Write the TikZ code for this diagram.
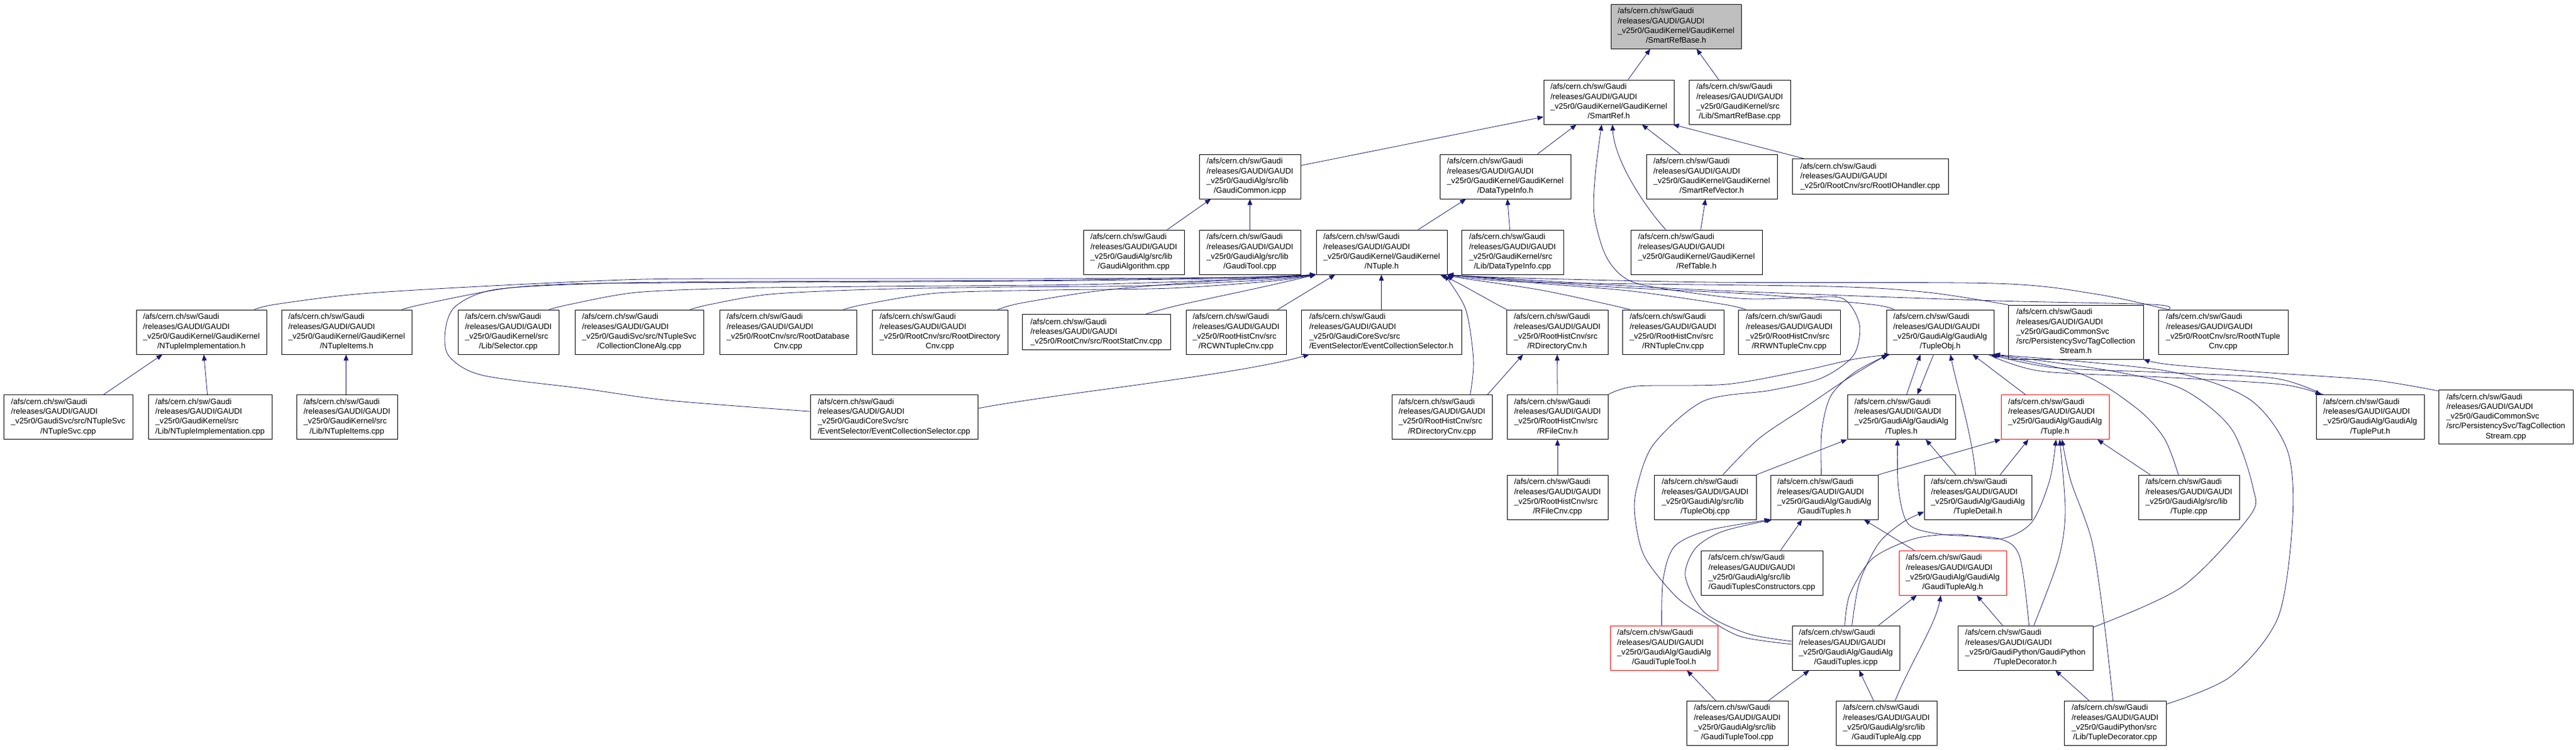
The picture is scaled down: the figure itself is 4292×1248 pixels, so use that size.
\documentclass[tikz,border=0pt]{standalone}
\usepackage{fontspec}
\setmainfont{Liberation Sans}
\usetikzlibrary{arrows.meta}
\definecolor{edgec}{HTML}{191970}
\definecolor{grayfill}{HTML}{BFBFBF}
\newcommand\fsz{\fontsize{13.2}{16.2}\selectfont}
\newcommand\La[2]{\begin{tabular}{@{}l@{}}/afs/cern.ch/sw/Gaudi\\/releases/GAUDI/GAUDI\\#1\\\multicolumn{1}{@{}c@{}}{#2}\end{tabular}}
\newcommand\Lc[1]{\begin{tabular}{@{}l@{}}/afs/cern.ch/sw/Gaudi\\/releases/GAUDI/GAUDI\\\multicolumn{1}{@{}c@{}}{#1}\end{tabular}}
\newcommand\Le[3]{\begin{tabular}{@{}l@{}}/afs/cern.ch/sw/Gaudi\\/releases/GAUDI/GAUDI\\#1\\#2\\\multicolumn{1}{@{}c@{}}{#3}\end{tabular}}
\newcommand\bx[6]{\node[#5, minimum width={#3-#2}] (#1) at ({(#2+#3)/2},#4) {#6};}
\tikzset{
 bx/.style={draw=black, line width=0.8pt, fill=white, inner sep=0pt, minimum height=74pt, font=\fsz},
 bx3/.style={bx, minimum height=59pt},
 bx5/.style={bx, minimum height=90pt},
 redb/.style={bx, draw=red},
 lnk/.style={draw=edgec, line width=0.8pt, -{Triangle[length=10pt,width=8pt]}},
}
\begin{document}
\begin{tikzpicture}[x=1pt,y=-1pt]
\fill[white] (0,0) rectangle (4292,1248);
\useasboundingbox (0,0) rectangle (4292,1248);
% row 0
\bx{srb}{2684}{2901}{44}{bx,fill=grayfill}{\La{\_v25r0/GaudiKernel/GaudiKernel}{/SmartRefBase.h}}
% row 1
\bx{sr}{2572}{2789}{170}{bx}{\La{\_v25r0/GaudiKernel/GaudiKernel}{/SmartRef.h}}
\bx{srbc}{2814}{2983}{170}{bx}{\La{\_v25r0/GaudiKernel/src}{/Lib/SmartRefBase.cpp}}
% row 2
\bx{gc}{1998}{2167}{294}{bx}{\La{\_v25r0/GaudiAlg/src/lib}{/GaudiCommon.icpp}}
\bx{dti}{2399}{2617}{294}{bx}{\La{\_v25r0/GaudiKernel/GaudiKernel}{/DataTypeInfo.h}}
\bx{srv}{2743}{2961}{294}{bx}{\La{\_v25r0/GaudiKernel/GaudiKernel}{/SmartRefVector.h}}
\bx{rio}{2986}{3246}{294}{bx3}{\Lc{\_v25r0/RootCnv/src/RootIOHandler.cpp}}
% row 3
\bx{ga}{1805}{1973}{420}{bx}{\La{\_v25r0/GaudiAlg/src/lib}{/GaudiAlgorithm.cpp}}
\bx{gt}{1998}{2167}{420}{bx}{\La{\_v25r0/GaudiAlg/src/lib}{/GaudiTool.cpp}}
\bx{nt}{2193}{2411}{420}{bx}{\La{\_v25r0/GaudiKernel/GaudiKernel}{/NTuple.h}}
\bx{dtic}{2435}{2605}{420}{bx}{\La{\_v25r0/GaudiKernel/src}{/Lib/DataTypeInfo.cpp}}
\bx{rt}{2717}{2936}{420}{bx}{\La{\_v25r0/GaudiKernel/GaudiKernel}{/RefTable.h}}
% row 4
\bx{nih}{227}{444}{553}{bx}{\La{\_v25r0/GaudiKernel/GaudiKernel}{/NTupleImplementation.h}}
\bx{nitem}{469}{686}{553}{bx}{\La{\_v25r0/GaudiKernel/GaudiKernel}{/NTupleItems.h}}
\bx{sel}{763}{931}{553}{bx}{\La{\_v25r0/GaudiKernel/src}{/Lib/Selector.cpp}}
\bx{cca}{958}{1172}{553}{bx}{\La{\_v25r0/GaudiSvc/src/NTupleSvc}{/CollectionCloneAlg.cpp}}
\bx{rdb}{1199}{1427}{553}{bx}{\La{\_v25r0/RootCnv/src/RootDatabase}{Cnv.cpp}}
\bx{rdir}{1453}{1679}{553}{bx}{\La{\_v25r0/RootCnv/src/RootDirectory}{Cnv.cpp}}
\bx{rstat}{1703}{1950}{553}{bx3}{\Lc{\_v25r0/RootCnv/src/RootStatCnv.cpp}}
\bx{rcw}{1976}{2143}{553}{bx}{\La{\_v25r0/RootHistCnv/src}{/RCWNTupleCnv.cpp}}
\bx{ecsh}{2168}{2435}{553}{bx}{\La{\_v25r0/GaudiCoreSvc/src}{/EventSelector/EventCollectionSelector.h}}
\bx{rdh}{2510}{2679}{553}{bx}{\La{\_v25r0/RootHistCnv/src}{/RDirectoryCnv.h}}
\bx{rnt}{2703}{2872}{553}{bx}{\La{\_v25r0/RootHistCnv/src}{/RNTupleCnv.cpp}}
\bx{rrw}{2896}{3066}{553}{bx}{\La{\_v25r0/RootHistCnv/src}{/RRWNTupleCnv.cpp}}
\bx{tobj}{3143}{3322}{553}{bx}{\La{\_v25r0/GaudiAlg/GaudiAlg}{/TupleObj.h}}
\bx{tcsh}{3346}{3571}{553}{bx5}{\Le{\_v25r0/GaudiCommonSvc}{/src/PersistencySvc/TagCollection}{Stream.h}}
\bx{rntc}{3596}{3812}{553}{bx}{\La{\_v25r0/RootCnv/src/RootNTuple}{Cnv.cpp}}
% row 5
\bx{ntsvc}{6}{221}{694.5}{bx}{\La{\_v25r0/GaudiSvc/src/NTupleSvc}{/NTupleSvc.cpp}}
\bx{nic}{247}{453}{694.5}{bx}{\La{\_v25r0/GaudiKernel/src}{/Lib/NTupleImplementation.cpp}}
\bx{nitc}{494}{662}{694.5}{bx}{\La{\_v25r0/GaudiKernel/src}{/Lib/NTupleItems.cpp}}
\bx{ecsc}{1350}{1629}{694.5}{bx}{\La{\_v25r0/GaudiCoreSvc/src}{/EventSelector/EventCollectionSelector.cpp}}
\bx{rdc}{2319}{2486}{694.5}{bx}{\La{\_v25r0/RootHistCnv/src}{/RDirectoryCnv.cpp}}
\bx{rfh}{2511}{2679}{694.5}{bx}{\La{\_v25r0/RootHistCnv/src}{/RFileCnv.h}}
\bx{tuples}{3078}{3258}{694.5}{bx}{\La{\_v25r0/GaudiAlg/GaudiAlg}{/Tuples.h}}
\bx{tupleh}{3334}{3514}{694.5}{redb}{\La{\_v25r0/GaudiAlg/GaudiAlg}{/Tuple.h}}
\bx{tput}{3859}{4039}{694.5}{bx}{\La{\_v25r0/GaudiAlg/GaudiAlg}{/TuplePut.h}}
\bx{tcsc}{4063}{4287}{694.5}{bx5}{\Le{\_v25r0/GaudiCommonSvc}{/src/PersistencySvc/TagCollection}{Stream.cpp}}
% row 6
\bx{rfc}{2511}{2679}{828}{bx}{\La{\_v25r0/RootHistCnv/src}{/RFileCnv.cpp}}
\bx{tobjc}{2756}{2926}{828}{bx}{\La{\_v25r0/GaudiAlg/src/lib}{/TupleObj.cpp}}
\bx{gth}{2950}{3129}{828}{bx}{\La{\_v25r0/GaudiAlg/GaudiAlg}{/GaudiTuples.h}}
\bx{tdet}{3206}{3385}{828}{bx}{\La{\_v25r0/GaudiAlg/GaudiAlg}{/TupleDetail.h}}
\bx{tcpp}{3563}{3731}{828}{bx}{\La{\_v25r0/GaudiAlg/src/lib}{/Tuple.cpp}}
% row 7
\bx{gtc}{2834}{3037}{954}{bx}{\La{\_v25r0/GaudiAlg/src/lib}{/GaudiTuplesConstructors.cpp}}
\bx{gtah}{3164}{3343}{954}{redb}{\La{\_v25r0/GaudiAlg/GaudiAlg}{/GaudiTupleAlg.h}}
% row 8
\bx{gtth}{2683}{2862}{1079}{redb}{\La{\_v25r0/GaudiAlg/GaudiAlg}{/GaudiTupleTool.h}}
\bx{gticpp}{2986}{3165}{1079}{bx}{\La{\_v25r0/GaudiAlg/GaudiAlg}{/GaudiTuples.icpp}}
\bx{tdech}{3262}{3487}{1079}{bx}{\La{\_v25r0/GaudiPython/GaudiPython}{/TupleDecorator.h}}
% row 9
\bx{gttc}{2810}{2979}{1204}{bx}{\La{\_v25r0/GaudiAlg/src/lib}{/GaudiTupleTool.cpp}}
\bx{gtac}{3059}{3227}{1204}{bx}{\La{\_v25r0/GaudiAlg/src/lib}{/GaudiTupleAlg.cpp}}
\bx{tdecc}{3439}{3609}{1204}{bx}{\La{\_v25r0/GaudiPython/src}{/Lib/TupleDecorator.cpp}}

% ---------- edges ----------
\draw[lnk] ([xshift=141pt]sr.north west) -- ([xshift=66pt]srb.south west);
\draw[lnk] ([xshift=50pt]srbc.north west) -- ([xshift=143pt]srb.south west);
\draw[lnk] ([yshift=-19pt]gc.north east) -- ([yshift=-62pt]sr.north west);
\draw[lnk] ([xshift=163pt]dti.north west) -- ([xshift=55pt]sr.south west);
\draw[lnk] ([xshift=57pt]srv.north west) -- ([xshift=164pt]sr.south west);
\draw[lnk] ([xshift=20pt]rio.north west) -- ([xshift=-2pt]sr.south east);
\draw[lnk] ([xshift=59pt]rt.north west) .. controls (2745,350) and (2690,270) .. ([xshift=115pt]sr.south west);
\draw[lnk] ([xshift=117pt]rt.north west) -- ([xshift=99pt]srv.south west);
\draw[lnk] ([xshift=140pt]ga.north west) -- ([xshift=20pt]gc.south west);
\draw[lnk] (gt.north) -- (gc.south);
\draw[lnk] ([xshift=170pt]nt.north west) -- ([xshift=44pt]dti.south west);
\draw[lnk] ([xshift=81pt]dtic.north west) -- ([xshift=113pt]dti.south west);
% long curve GaudiTuples.icpp -> SmartRef.h
\draw[lnk] plot[smooth] coordinates {([yshift=6pt]gticpp.west) (2900,1060) (2840,1027) (2792,993) (2740,927) (2724,860) (2727,813) (2755,740) (2838,668) (2950,650) (3034,630) (3088,592) (3098,540) (3070,497) (3000,496) (2898,497) (2749,477) (2703,460) (2674,423) (2656,357) (2658,290) ([xshift=97pt]sr.south west)};
\draw[lnk] plot[smooth] coordinates {(rfh.north east) (2727,643) (2876,640) (3005,617) (3090,598) ([xshift=7pt]tobj.south west)};
% into NTuple.h from the left
\draw[lnk] plot[smooth] coordinates {([xshift=197pt]nih.north west) (458,507) (592,490) (781,478) (1038,466) (1205,464) (1700,464) (2050,462) (nt.south west)};
\draw[lnk] plot[smooth] coordinates {([xshift=201pt]nitem.north west) (703,507) (837,481) (949,473) (1116,471) (1700,468) (2080,463) (nt.south west)};
\draw[lnk] plot[smooth] coordinates {([xshift=152pt]sel.north west) (949,507) (1060,487) (1228,480) (1451,477) (1800,474) (2100,464) (nt.south west)};
\draw[lnk] plot[smooth] coordinates {([xshift=192pt]cca.north west) (1183,507) (1283,490) (1451,482) (1674,478) (1900,476) (2110,466) (nt.south west)};
\draw[lnk] plot[smooth] coordinates {([xshift=207pt]rdb.north west) (1440,507) (1562,488) (1750,483) (1950,480) (2120,468) (nt.south west)};
\draw[lnk] plot[smooth] coordinates {([xshift=210pt]rdir.north west) (1700,505) (1833,484) (2006,469) (nt.south west)};
\draw[lnk] plot[smooth] coordinates {([xshift=206pt]rstat.north west) (1965,508) (2108,477) (nt.south west)};
\draw[lnk] plot[smooth] coordinates {([yshift=-28pt]ecsc.north west) (1116,667) (971,647) (804,625) (748,593) (742,550) (759,510) (826,482) (1004,472) (1228,469) (1700,467) (2060,462) (nt.south west)};
\draw[lnk] ([xshift=153pt]rcw.north west) -- ([xshift=32pt]nt.south west);
\draw[lnk] ([xshift=134pt]ecsh.north west) -- ([xshift=109pt]nt.south west);
% into NTuple.h from the right
\draw[lnk] ([xshift=1pt]rdh.north west) .. controls (2480,500) and (2430,470) .. ([xshift=-12pt]nt.south east);
\draw[lnk] plot[smooth] coordinates {([xshift=131pt]rdc.north west) (2455,600) (2442,515) ([xshift=-5pt]nt.south east)};
\draw[lnk] plot[smooth] coordinates {([xshift=13pt]rnt.north west) (2680,507) (2567,483) (2435,463) (nt.south east)};
\draw[lnk] plot[smooth] coordinates {([xshift=13pt]rrw.north west) (2873,507) (2720,485) (2567,472) (nt.south east)};
\draw[lnk] plot[smooth] coordinates {([xshift=13pt]tobj.north west) (3118,507) (2924,490) (2669,477) (nt.south east)};
\draw[lnk] plot[smooth] coordinates {(tcsh.north west) (3213,487) (3047,477) (2550,470) (nt.south east)};
\draw[lnk] plot[smooth] coordinates {([xshift=17pt]rntc.north west) (3586,507) (3296,500) (2800,481) (nt.south east)};
\draw[lnk] plot[smooth] coordinates {([xshift=17pt]rntc.north west) (3494,490) (3324,472) (2850,470) (2500,462) (nt.south east)};
% row 5 left
\draw[lnk] ([xshift=167pt]ntsvc.north west) -- ([xshift=44pt]nih.south west);
\draw[lnk] ([xshift=99pt]nic.north west) -- ([xshift=113pt]nih.south west);
\draw[lnk] ([xshift=83pt]nitc.north west) -- ([xshift=108pt]nitem.south west);
\draw[lnk] ([yshift=-23pt]ecsc.north east) .. controls (1760,655) and (2060,625) .. ([xshift=14pt]ecsh.south west);
\draw[lnk] ([xshift=-8pt]rdc.north east) -- ([xshift=28pt]rdh.south west);
\draw[lnk] (rfh.north) -- (rdh.south);
\draw[lnk] (rfc.north) -- (rfh.south);
% TupleObj.h
\draw[lnk] ([xshift=99pt]tuples.north west) -- ([xshift=57pt]tobj.south west);
\draw[lnk] ([xshift=79pt]tobj.south west) -- ([xshift=117pt]tuples.north west);
\draw[lnk] ([xshift=41pt]tupleh.north west) -- ([xshift=144pt]tobj.south west);
\draw[lnk] ([xshift=86pt]tdet.north west) .. controls (3285,720) and (3262,650) .. ([xshift=107pt]tobj.south west);
\draw[lnk] plot[smooth] coordinates {([xshift=115pt]tobjc.north west) (2931,730) (3005,680) (3079,630) ([xshift=2pt]tobj.south west)};
\draw[lnk] plot[smooth] coordinates {([xshift=85pt]gth.north west) (3035,720) (3050,660) (3090,620) ([xshift=4pt]tobj.south west)};
\draw[lnk] (tobjc.north east) -- (tuples.south west);
\draw[lnk] plot[smooth] coordinates {([xshift=67pt]tcpp.north west) (3606,730) (3560,680) (3468,623) ([xshift=-4pt]tobj.south east)};
\draw[lnk] plot[smooth] coordinates {([xshift=12pt]tput.north west) (3790,630) (3600,620) (3420,612) ([xshift=-6pt]tobj.south east)};
\draw[lnk] plot[smooth] coordinates {([xshift=-10pt]tobj.south east) (3400,618) (3600,628) (3800,640) ([xshift=9pt]tput.north west)};
\draw[lnk] plot[smooth] coordinates {([yshift=-3pt]tdech.north east) (3636,977) (3748,860) (3754,813) (3717,713) (3634,647) (3514,617) ([xshift=-2pt]tobj.south east)};
\draw[lnk] plot[smooth] coordinates {([yshift=-6pt]tdecc.north east) (3716,1127) (3796,1027) (3820,860) (3810,747) (3745,663) (3606,617) (tobj.south east)};
% Tuples.h
\draw[lnk] ([xshift=53pt]tdet.north west) -- ([xshift=131pt]tuples.south west);
\draw[lnk] plot[smooth] coordinates {([xshift=119pt]tdech.north west) (3365,927) (3330,897) (3236,890) (3180,873) (3163,813) ([xshift=84pt]tuples.south west)};
% Tuple.h
\draw[lnk] (gth.north east) -- (tupleh.south west);
\draw[lnk] ([xshift=127pt]tdet.north west) -- ([xshift=46pt]tupleh.south west);
\draw[lnk] ([xshift=20pt]tcpp.north west) -- ([xshift=161pt]tupleh.south west);
\draw[lnk] plot[smooth] coordinates {([xshift=88pt]gticpp.north west) (3082,990) (3120,930) (3190,897) (3260,890) (3335,897) (3385,870) (3415,800) ([xshift=92pt]tupleh.south west)};
\draw[lnk] plot[smooth] coordinates {([xshift=127pt]tdech.north west) (3430,930) (3441,850) ([xshift=98pt]tupleh.south west)};
\draw[lnk] plot[smooth] coordinates {([xshift=82pt]tdecc.north west) (3505,1030) (3485,900) (3450,800) ([xshift=102pt]tupleh.south west)};
% TupleDetail.h
\draw[lnk] plot[smooth] coordinates {([xshift=100pt]gticpp.north west) (3098,970) (3130,905) (3170,870) ([yshift=13pt]tdet.south west)};
% GaudiTuples.h
\draw[lnk] ([xshift=133pt]gtc.north west) -- ([xshift=53pt]gth.south west);
\draw[lnk] ([xshift=26pt]gtah.north west) -- ([xshift=156pt]gth.south west);
\draw[lnk] plot[smooth] coordinates {([xshift=86pt]gtth.north west) (2771,965) (2790,910) (2847,883) (gth.south west)};
\draw[lnk] plot[smooth] coordinates {([yshift=11pt]gticpp.west) (2911,1055) (2840,1020) (2808,960) (2825,913) (2870,885) ([xshift=3pt]gth.south west)};
% GaudiTupleAlg.h
\draw[lnk] ([xshift=144pt]gticpp.north west) -- ([xshift=30pt]gtah.south west);
\draw[lnk] ([xshift=99pt]gtac.north west) .. controls (3185,1100) and (3225,1040) .. ([xshift=70pt]gtah.south west);
\draw[lnk] ([xshift=75pt]tdech.north west) -- ([xshift=130pt]gtah.south west);
% bottom row
\draw[lnk] ([xshift=49pt]gttc.north west) -- ([xshift=128pt]gtth.south west);
\draw[lnk] ([xshift=137pt]gttc.north west) -- ([xshift=29pt]gticpp.south west);
\draw[lnk] ([xshift=63pt]gtac.north west) -- ([xshift=112pt]gticpp.south west);
\draw[lnk] ([xshift=42pt]tdecc.north west) -- ([xshift=163pt]tdech.south west);
% TagCollectionStream
\draw[lnk] plot[smooth] coordinates {([yshift=-2pt]tcsc.north west) (3954,633) (3770,620) (3614,607) (tcsh.south east)};
\end{tikzpicture}
\end{document}
